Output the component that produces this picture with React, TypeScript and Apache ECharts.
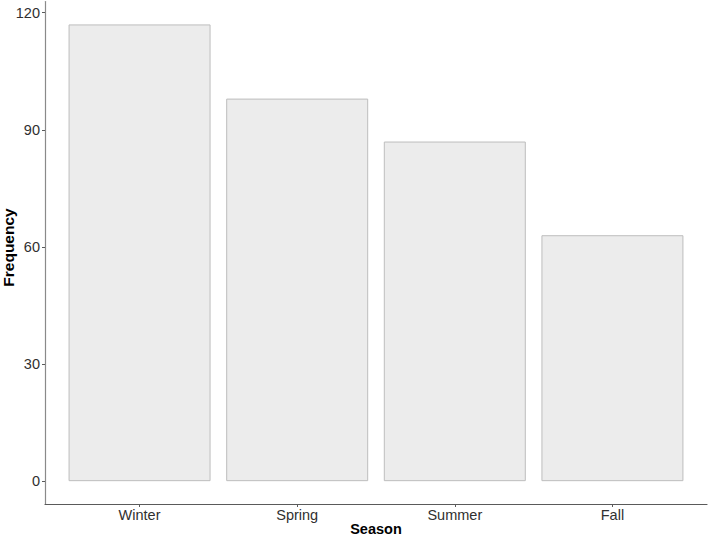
import React, { useEffect, useRef } from "react";
import * as echarts from "echarts";

const seasons = ["Winter", "Spring", "Summer", "Fall"];
const frequencies = [117, 98, 87, 63];
const yTicks = [0, 30, 60, 90, 120];

export default function App() {
  const ref = useRef<HTMLDivElement>(null);
  useEffect(() => {
    if (!ref.current) return;
    const chart = echarts.init(ref.current, null, { renderer: "svg" });
    const font = "Liberation Sans, Arial, sans-serif";
    const positions = seasons.map((_, i) => i + 1);
    chart.setOption({
      animation: false,
      grid: { left: 45, right: 2, top: 1.6, bottom: 32, containLabel: false },
      xAxis: {
        type: "value",
        min: 0.4,
        max: 4.6,
        splitLine: { show: false },
        axisLine: { show: true, onZero: false, lineStyle: { color: "#5a5a5a", width: 1.2 } },
        axisTick: { show: true, length: 3, lineStyle: { color: "#5a5a5a" }, customValues: positions },
        axisLabel: {
          customValues: positions,
          formatter: (v: number) => seasons[Math.round(v) - 1] ?? "",
          color: "#303030",
          fontSize: 14.5,
          fontFamily: font,
          margin: 3,
        },
      },
      yAxis: {
        type: "value",
        min: -5.85,
        max: 122.85,
        splitLine: { show: false },
        axisLine: { show: true, onZero: false, lineStyle: { color: "#8a8a8a", width: 1.2 } },
        axisTick: { show: true, length: 3, lineStyle: { color: "#5a5a5a" }, customValues: yTicks },
        axisLabel: {
          customValues: yTicks,
          color: "#303030",
          fontSize: 14.5,
          fontFamily: font,
          margin: 5,
        },
      },
      graphic: [
        {
          type: "text",
          x: 376,
          y: 529,
          style: {
            text: "Season",
            fontSize: 14.5,
            fontWeight: "bold",
            fontFamily: font,
            fill: "#000",
            textAlign: "center",
            textVerticalAlign: "middle",
          },
        },
        {
          type: "text",
          x: 8,
          y: 247.5,
          rotation: Math.PI / 2,
          style: {
            text: "Frequency",
            fontSize: 15.5,
            fontWeight: "bold",
            fontFamily: font,
            fill: "#000",
            textAlign: "center",
            textVerticalAlign: "middle",
          },
        },
      ],
      series: [
        {
          type: "bar",
          data: frequencies.map((v, i) => [i + 1, v]),
          barWidth: 142,
          itemStyle: { color: "#ececec", borderColor: "#bdbdbd", borderWidth: 1 },
        },
      ],
    });
    return () => chart.dispose();
  }, []);
  return <div ref={ref} style={{ width: 709, height: 536, position: "absolute", left: 0, top: 0 }} />;
}
